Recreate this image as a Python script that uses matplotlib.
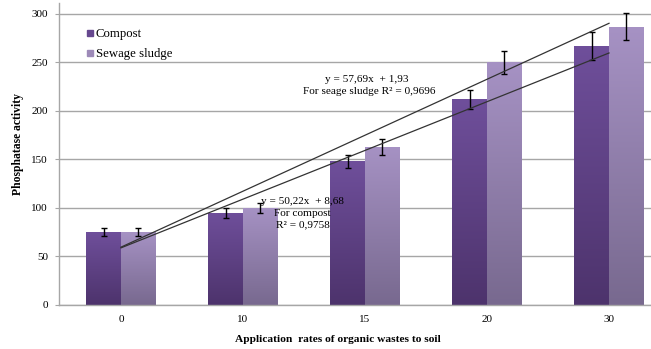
import matplotlib
matplotlib.use("Agg")
import matplotlib.pyplot as plt
import numpy as np
from matplotlib.colors import LinearSegmentedColormap
from matplotlib.lines import Line2D

categories = ["0", "10", "15", "20", "30"]
compost = [75, 95, 148, 212, 267]
sludge = [75, 100, 163, 250, 287]
compost_err = [4, 5, 7, 10, 14]
sludge_err = [4, 5, 8, 12, 14]
# trend line coefficients (slope, intercept) as shown in the chart
compost_fit = (50.22, 8.68)
sludge_fit = (57.69, 1.93)

plt.rcParams['font.family'] = ['Liberation Serif', 'DejaVu Serif']
W, H = 651, 349
fig = plt.figure(figsize=(W / 100, H / 100), dpi=100)
ax = fig.add_axes([59 / W, (H - 305) / H, (W - 59) / W, 302 / H])

x = np.arange(len(categories))
bw = 0.283
grid_c = "#a6a6a6"
ax.set_axisbelow(True)
ax.yaxis.grid(True, color=grid_c, linewidth=1)

bars_c = ax.bar(x - bw / 2, compost, bw, facecolor="none", edgecolor="none", zorder=2)
bars_s = ax.bar(x + bw / 2, sludge, bw, facecolor="none", edgecolor="none", zorder=2)

cm_c = LinearSegmentedColormap.from_list("c", ["#4d336c", "#6f4f9b"])
cm_s = LinearSegmentedColormap.from_list("s", ["#78698f", "#a692c4"])
grad = np.linspace(0, 1, 256).reshape(-1, 1)
for bars, cm in ((bars_c, cm_c), (bars_s, cm_s)):
    for b in bars:
        x0, y0 = b.get_x(), b.get_y()
        im = ax.imshow(grad, cmap=cm, origin="lower", aspect="auto",
                       extent=(x0, x0 + b.get_width(), y0, y0 + b.get_height()),
                       zorder=2)
        im.set_clip_path(b)

ax.errorbar(x - bw / 2, compost, yerr=compost_err, fmt="none", ecolor="black",
            elinewidth=1, capsize=2.5, capthick=1, zorder=4)
ax.errorbar(x + bw / 2, sludge, yerr=sludge_err, fmt="none", ecolor="black",
            elinewidth=1, capsize=2.5, capthick=1, zorder=4)

xt = np.array([1, 5])
for (m, b) in (compost_fit, sludge_fit):
    ax.plot(xt - 1, m * xt + b, color="#333333", linewidth=0.9, zorder=5)

ax.set_xlim(-0.508, 4.344)
ax.set_ylim(0, 311.3)
ax.set_yticks([0, 50, 100, 150, 200, 250, 300])
ax.set_xticks(x)
ax.set_xticklabels(categories)
ax.tick_params(axis="y", length=3, color=grid_c, pad=5, labelsize=8)
ax.tick_params(axis="x", length=0, pad=7, labelsize=8)
for s in ("top", "right"):
    ax.spines[s].set_visible(False)
for s in ("left", "bottom"):
    ax.spines[s].set_color(grid_c)
    ax.spines[s].set_linewidth(1)

fs = 8.1


def px(xp, yp):
    return (xp / W, 1 - yp / H)


fig.text(*px(367, 79), "y = 57,69x  + 1,93", ha="center", va="center", fontsize=fs)
fig.text(*px(369, 91), "For seage sludge R² = 0,9696", ha="center", va="center", fontsize=fs)
fig.text(*px(302, 202), "y = 50,22x  + 8,68", ha="center", va="center", fontsize=fs)
fig.text(*px(302, 214), "For compost", ha="center", va="center", fontsize=fs)
fig.text(*px(303, 225), "R² = 0,9758", ha="center", va="center", fontsize=fs)

fig.text(*px(338, 340), "Application  rates of organic wastes to soil", ha="center",
         va="center", fontsize=8.2, fontweight="bold")
fig.text(*px(18, 144), "Phosphatase activity", ha="center", va="center",
         rotation=90, fontsize=8.4, fontweight="bold")

handles = [Line2D([], [], marker="s", linestyle="none", color="#66488f", markersize=5),
           Line2D([], [], marker="s", linestyle="none", color="#9d8ab8", markersize=5)]
fig.legend(handles, ["Compost", "Sewage sludge"], loc="upper left",
           bbox_to_anchor=(86 / W, 1 - 28 / H), frameon=False, fontsize=9.2,
           handlelength=0.6, handletextpad=0.15, labelspacing=0.65, borderpad=0,
           borderaxespad=0)

fig.savefig("out.png", dpi=100)
